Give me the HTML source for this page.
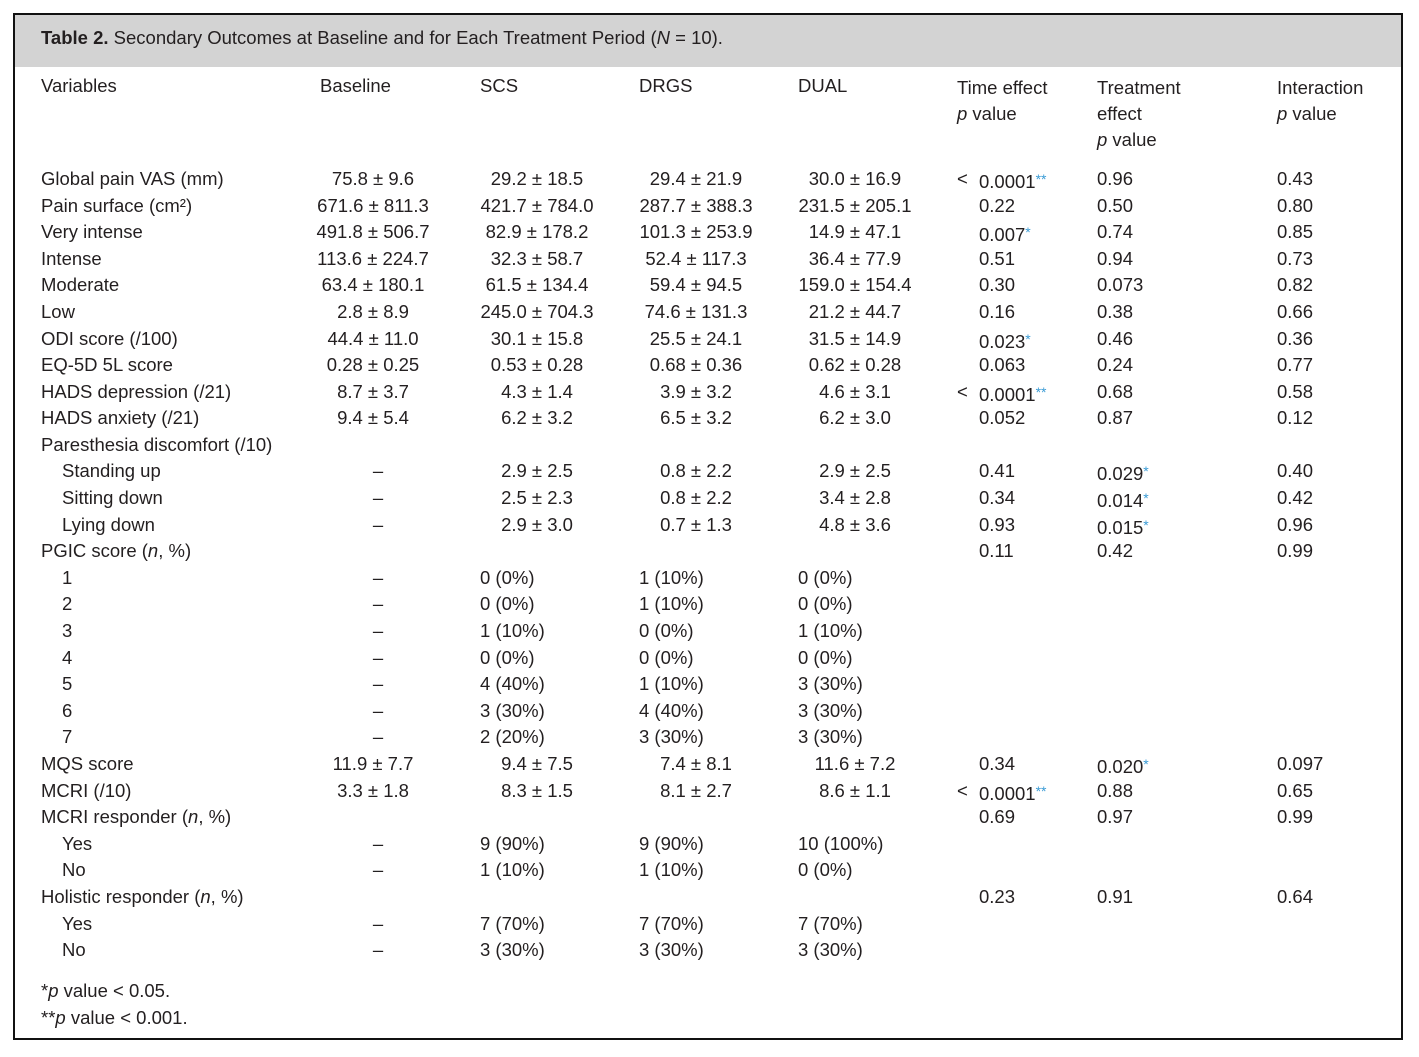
<!DOCTYPE html>
<html><head><meta charset="utf-8">
<style>
body{margin:0;background:#fff;}
#wrap{position:absolute;left:13px;top:13px;width:1386px;height:1023px;border:2px solid #111;overflow:hidden;font-family:"Liberation Sans",sans-serif;font-size:18.5px;color:#231f20;}
#hdr{position:absolute;left:0;top:0;width:1386px;height:52px;background:#d3d3d3;}
.t{position:absolute;white-space:nowrap;line-height:22px;}
.c{transform:translateX(-50%);}
.s{color:#3a9bd5;font-size:14px;vertical-align:4px;}
</style></head><body>
<div id="wrap">
<div id="hdr">
<div class="t" style="left:26px;top:12px;"><b>Table 2.</b> Secondary Outcomes at Baseline and for Each Treatment Period (<i>N</i> = 10).</div>
</div>
<div class="t" style="left:26px;top:60px">Variables</div>
<div class="t" style="left:305px;top:60px">Baseline</div>
<div class="t" style="left:465px;top:60px">SCS</div>
<div class="t" style="left:624px;top:60px">DRGS</div>
<div class="t" style="left:783px;top:60px">DUAL</div>
<div class="t" style="left:942px;top:60px;line-height:26px">Time effect<br><i>p</i> value</div>
<div class="t" style="left:1082px;top:60px;line-height:26px">Treatment<br>effect<br><i>p</i> value</div>
<div class="t" style="left:1262px;top:60px;line-height:26px">Interaction<br><i>p</i> value</div>
<div class="t" style="left:26px;top:965px">*<i>p</i> value &lt; 0.05.</div>
<div class="t" style="left:26px;top:992px">**<i>p</i> value &lt; 0.001.</div>
</div>
<script>
const rows=[
["Global pain VAS (mm)",0,"75.8 ± 9.6","29.2 ± 18.5","29.4 ± 21.9","30.0 ± 16.9","< 0.0001","**","0.96","","0.43"],
["Pain surface (cm²)",0,"671.6 ± 811.3","421.7 ± 784.0","287.7 ± 388.3","231.5 ± 205.1","0.22","","0.50","","0.80"],
["Very intense",0,"491.8 ± 506.7","82.9 ± 178.2","101.3 ± 253.9","14.9 ± 47.1","0.007","*","0.74","","0.85"],
["Intense",0,"113.6 ± 224.7","32.3 ± 58.7","52.4 ± 117.3","36.4 ± 77.9","0.51","","0.94","","0.73"],
["Moderate",0,"63.4 ± 180.1","61.5 ± 134.4","59.4 ± 94.5","159.0 ± 154.4","0.30","","0.073","","0.82"],
["Low",0,"2.8 ± 8.9","245.0 ± 704.3","74.6 ± 131.3","21.2 ± 44.7","0.16","","0.38","","0.66"],
["ODI score (/100)",0,"44.4 ± 11.0","30.1 ± 15.8","25.5 ± 24.1","31.5 ± 14.9","0.023","*","0.46","","0.36"],
["EQ-5D 5L score",0,"0.28 ± 0.25","0.53 ± 0.28","0.68 ± 0.36","0.62 ± 0.28","0.063","","0.24","","0.77"],
["HADS depression (/21)",0,"8.7 ± 3.7","4.3 ± 1.4","3.9 ± 3.2","4.6 ± 3.1","< 0.0001","**","0.68","","0.58"],
["HADS anxiety (/21)",0,"9.4 ± 5.4","6.2 ± 3.2","6.5 ± 3.2","6.2 ± 3.0","0.052","","0.87","","0.12"],
["Paresthesia discomfort (/10)",0,"","","","","","","","",""],
["Standing up",1,"–","2.9 ± 2.5","0.8 ± 2.2","2.9 ± 2.5","0.41","","0.029","*","0.40"],
["Sitting down",1,"–","2.5 ± 2.3","0.8 ± 2.2","3.4 ± 2.8","0.34","","0.014","*","0.42"],
["Lying down",1,"–","2.9 ± 3.0","0.7 ± 1.3","4.8 ± 3.6","0.93","","0.015","*","0.96"],
["PGIC score (<i>n</i>, %)",0,"","","","","0.11","","0.42","","0.99"],
["1",2,"–","0 (0%)","1 (10%)","0 (0%)","","","","",""],
["2",2,"–","0 (0%)","1 (10%)","0 (0%)","","","","",""],
["3",2,"–","1 (10%)","0 (0%)","1 (10%)","","","","",""],
["4",2,"–","0 (0%)","0 (0%)","0 (0%)","","","","",""],
["5",2,"–","4 (40%)","1 (10%)","3 (30%)","","","","",""],
["6",2,"–","3 (30%)","4 (40%)","3 (30%)","","","","",""],
["7",2,"–","2 (20%)","3 (30%)","3 (30%)","","","","",""],
["MQS score",0,"11.9 ± 7.7","9.4 ± 7.5","7.4 ± 8.1","11.6 ± 7.2","0.34","","0.020","*","0.097"],
["MCRI (/10)",0,"3.3 ± 1.8","8.3 ± 1.5","8.1 ± 2.7","8.6 ± 1.1","< 0.0001","**","0.88","","0.65"],
["MCRI responder (<i>n</i>, %)",0,"","","","","0.69","","0.97","","0.99"],
["Yes",1,"–","9 (90%)","9 (90%)","10 (100%)","","","","",""],
["No",1,"–","1 (10%)","1 (10%)","0 (0%)","","","","",""],
["Holistic responder (<i>n</i>, %)",0,"","","","","0.23","","0.91","","0.64"],
["Yes",1,"–","7 (70%)","7 (70%)","7 (70%)","","","","",""],
["No",1,"–","3 (30%)","3 (30%)","3 (30%)","","","","",""]
];
const wrap=document.getElementById('wrap');
const ox=15, oy=15;
function add(html,x,y,center,name){
  const d=document.createElement('div');
  d.className='t'+(center?' c':'');
  d.style.left=(x-ox)+'px';d.style.top=(y-oy)+'px';
  d.innerHTML=html;
  
  
  wrap.appendChild(d);
}
const centers=[373,537,696,855], starts=[320,480,639,798];
rows.forEach((r,i)=>{
  const y=168+i*26.59;
  const ind=[41,62,62][r[1]];
  add(r[0],ind,y,false,'row-label');
  for(let k=0;k<4;k++){
    const v=r[2+k]; if(!v) continue;
    if(v.includes('±')||v==='–') add(v,v==='–'?378:centers[k],y,true,'cell-value');
    else add(v,starts[k],y,false,'cell-value');
  }
  if(r[6]){
    let t=r[6];
    if(t.startsWith('<')){add('&lt;',957,y,false,'less-than-sign');t=t.slice(2);}
    add(t+(r[7]?'<span class="s">'+r[7]+'</span>':''),979,y,false,'time-effect-p');
  }
  if(r[8]) add(r[8]+(r[9]?'<span class="s">'+r[9]+'</span>':''),1097,y,false,'treatment-effect-p');
  if(r[10]) add(r[10],1277,y,false,'interaction-p');
});
</script>
</body></html>
